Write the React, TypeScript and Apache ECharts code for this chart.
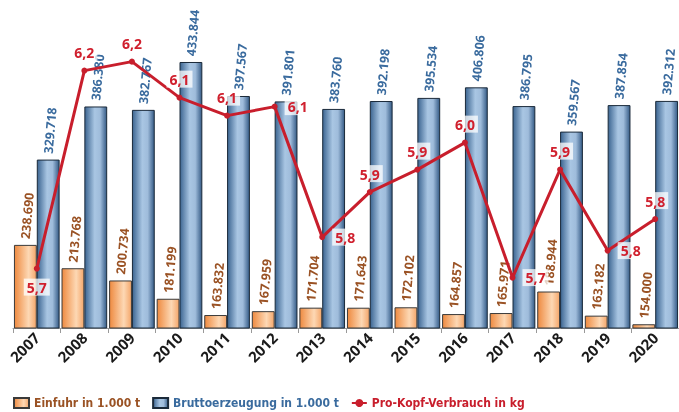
import React, { useEffect, useRef } from "react";
import * as echarts from "echarts";

const years = ["2007","2008","2009","2010","2011","2012","2013","2014","2015","2016","2017","2018","2019","2020"];
const einfuhr = [238.69,213.768,200.734,181.199,163.832,167.959,171.704,171.643,172.102,164.857,165.971,188.944,163.182,154.0];
const brutto = [329.718,386.38,382.767,433.844,397.567,391.801,383.76,392.198,395.534,406.806,386.795,359.567,387.854,392.312];
const proKopf = [5.72,6.16,6.18,6.10,6.06,6.08,5.79,5.89,5.94,6.00,5.70,5.94,5.76,5.83];
const proKopfLabelPos = ["bottom","top","top","top","top","right","right","top","top","top","right","top","right","top"];

const fmt3 = (v: number) => v.toFixed(3);
const fmt1 = (v: number) => v.toFixed(1).replace(".", ",");

export default function App() {
  const ref = useRef<HTMLDivElement>(null);
  useEffect(() => {
    document.body.style.margin = "0";
    const chart = echarts.init(ref.current!, null, { renderer: "svg" });
    const orangeGrad = new echarts.graphic.LinearGradient(0, 0, 1, 0, [
      { offset: 0, color: "#ee8a40" },
      { offset: 0.65, color: "#fdd8b4" },
      { offset: 1, color: "#f4a66a" },
    ]);
    const blueGrad = new echarts.graphic.LinearGradient(0, 0, 1, 0, [
      { offset: 0, color: "#3c6591" },
      { offset: 0.45, color: "#a9c6e3" },
      { offset: 0.7, color: "#9fbcdb" },
      { offset: 1, color: "#355b86" },
    ]);
    const barLabelBase = {
      show: true,
      position: "top" as const,
      rotate: 85,
      align: "left" as const,
      verticalAlign: "middle" as const,
      distance: 6,
      fontFamily: "Noto Sans",
      fontWeight: "bold" as const,
      fontSize: 12.5,
    };
    const legendFont = "'DejaVu Sans Condensed', 'Liberation Sans Narrow', 'Noto Sans'";
    chart.setOption({
      animation: false,
      grid: { left: 13, right: 0, top: 0, bottom: 84 },
      legend: {
        left: 8,
        top: 392,
        itemGap: 12,
        itemWidth: 15,
        itemHeight: 10,
        textStyle: { fontFamily: legendFont, fontWeight: "bold", fontSize: 12 },
        data: [
          { name: "Einfuhr in 1.000 t", icon: "rect", textStyle: { color: "#9a5224" } },
          { name: "Bruttoerzeugung in 1.000 t", icon: "rect", textStyle: { color: "#3a6b9e" } },
          { name: "Pro-Kopf-Verbrauch in kg", textStyle: { color: "#c81e2c" } },
        ],
      },
      xAxis: {
        type: "category",
        data: years,
        axisLine: { lineStyle: { color: "#999", width: 1 } },
        axisTick: { show: true, length: 5, lineStyle: { color: "#999" } },
        axisLabel: {
          rotate: 45,
          margin: 7,
          color: "#1a1a1a",
          fontFamily: "Noto Sans",
          fontWeight: "bold",
          fontSize: 15,
        },
      },
      yAxis: [
        { type: "value", min: 150, max: 500, show: false, splitLine: { show: false } },
        { type: "value", min: 5.588, max: 6.317, show: false, splitLine: { show: false } },
      ],
      series: [
        {
          name: "Einfuhr in 1.000 t",
          type: "bar",
          data: einfuhr,
          barGap: "0%",
          barCategoryGap: "4%",
          itemStyle: { color: orangeGrad, borderColor: "#3a3a3a", borderWidth: 1 },
          label: { ...barLabelBase, color: "#9a5224", formatter: (p: any) => fmt3(p.value) },
        },
        {
          name: "Bruttoerzeugung in 1.000 t",
          type: "bar",
          data: brutto,
          barGap: "0%",
          barCategoryGap: "4%",
          itemStyle: { color: blueGrad, borderColor: "#1b2a3a", borderWidth: 1 },
          label: { ...barLabelBase, color: "#3a6b9e", formatter: (p: any) => fmt3(p.value) },
        },
        {
          name: "Pro-Kopf-Verbrauch in kg",
          type: "line",
          yAxisIndex: 1,
          data: proKopf.map((v, i) => ({
            value: v,
            label: { position: proKopfLabelPos[i] },
          })),
          symbol: "circle",
          symbolSize: 6,
          lineStyle: { color: "#c81e2c", width: 3 },
          itemStyle: { color: "#c81e2c" },
          label: {
            show: true,
            distance: 7,
            color: "#d0202e",
            fontFamily: "Noto Sans",
            fontWeight: "bold",
            fontSize: 14,
            backgroundColor: "rgba(255,255,255,0.75)",
            padding: [2, 3, 1, 3],
            formatter: (p: any) => fmt1(p.value),
          },
          z: 5,
        },
      ],
    });
    return () => chart.dispose();
  }, []);
  return <div ref={ref} style={{ position: "fixed", left: 0, top: 0, width: 679, height: 412 }} />;
}
